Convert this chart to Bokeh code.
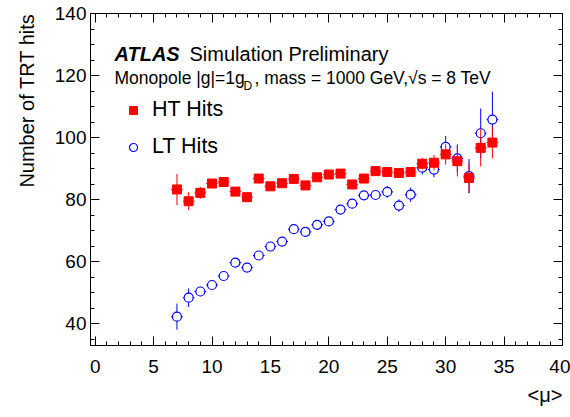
import math
from bokeh.plotting import figure
from bokeh.models import (Range1d, LinearAxis, SingleIntervalTicker, ColumnDataSource,
                          Legend, LegendItem, Label, CustomJSTickFormatter, Title)
from bokeh.embed import file_html
from bokeh.resources import INLINE

# ---------------- data ----------------
mu = [7, 8, 9, 10, 11, 12, 13, 14, 15, 16, 17, 18, 19, 20, 21, 22, 23, 24, 25, 26, 27,
      28, 29, 30, 31, 32, 33, 34]
ht_hits = [83.3, 79.5, 82.2, 85.2, 85.7, 82.6, 80.8, 86.8, 84.3, 85.3, 86.7, 84.6, 87.2,
           88.1, 88.4, 84.9, 86.8, 89.2, 88.9, 88.6, 88.9, 91.6, 91.9, 94.6, 92.4, 87.0,
           96.7, 98.4]
ht_err = [5.0, 2.9, 1.9, 1.4, 1.1, 1.0, 1.0, 1.0, 1.0, 1.0, 1.0, 1.0, 1.0, 1.0, 1.0, 1.2,
          1.2, 1.2, 1.3, 1.4, 1.5, 1.9, 2.5, 3.3, 4.9, 4.9, 6.0, 5.1]
lt_hits = [42.3, 48.4, 50.4, 52.5, 55.4, 59.7, 58.1, 62.0, 64.9, 66.5, 70.5, 69.6, 71.9,
           73.0, 76.8, 78.7, 81.4, 81.5, 82.5, 78.1, 81.6, 90.3, 89.7, 97.0, 93.3, 87.6,
           101.4, 105.8]
lt_err = [4.2, 3.0, 1.5, 1.3, 1.2, 1.2, 1.2, 1.2, 1.2, 1.2, 1.2, 1.2, 1.2, 1.2, 1.3, 1.3,
          1.4, 1.5, 1.9, 2.0, 2.3, 2.2, 2.5, 3.5, 4.5, 5.5, 8.0, 9.0]
bin_half_width = 0.5

x_ticks_interval = 5
y_ticks_interval = 20
x_title_text = "<\u03bc>"
y_title_text = "Number of TRT hits"

FONT = "Liberation Sans"
RED = "#ff0000"
BLUE = "#0000ff"

W, H = 570, 417
FL, FT, FR, FB = 89, 13, 562, 345   # frame edges in picture pixels

p = figure(width=W, height=H, x_range=Range1d(-0.4, 40), y_range=Range1d(33, 140),
           output_backend="svg", toolbar_location=None,
           min_border_left=FL, min_border_right=W - FR, min_border_top=FT,
           min_border_bottom=H - FB)
p.grid.visible = False
p.outline_line_color = "black"
p.outline_line_width = 1
p.background_fill_color = "white"
p.border_fill_color = "white"

xt = SingleIntervalTicker(interval=x_ticks_interval, num_minor_ticks=5)
yt = SingleIntervalTicker(interval=y_ticks_interval, num_minor_ticks=4)


def style_axis(ax, major_len):
    ax.major_tick_in = major_len
    ax.major_tick_out = 0
    ax.minor_tick_in = 4
    ax.minor_tick_out = 0
    ax.axis_line_color = "black"
    ax.major_tick_line_color = "black"
    ax.minor_tick_line_color = "black"
    ax.major_label_text_font = FONT
    ax.major_label_text_color = "black"
    ax.major_label_text_font_size = "19px"


xa = p.xaxis[0]
xa.ticker = xt
style_axis(xa, 9)
xa.major_label_standoff = 14

ya = p.yaxis[0]
ya.ticker = yt
style_axis(ya, 9)
ya.major_label_standoff = 4

blank = CustomJSTickFormatter(code="return ''")
top_ax = LinearAxis(ticker=xt, formatter=blank)
style_axis(top_ax, 9)
top_ax.major_label_standoff = 0
p.add_layout(top_ax, "above")
right_ax = LinearAxis(ticker=yt, formatter=blank)
style_axis(right_ax, 9)
right_ax.major_label_standoff = 0
p.add_layout(right_ax, "right")

# axis titles (right/top aligned as in the reference)
y_title = Title(text=y_title_text, align="right", text_font=FONT,
                text_font_size="20px", text_font_style="normal", text_color="black",
                standoff=27)
p.add_layout(y_title, "left")
x_title = Title(text=x_title_text, align="right", text_font=FONT, text_font_size="20px",
                text_font_style="normal", text_color="black", standoff=13,
                vertical_align="bottom")
p.add_layout(x_title, "below")

# ---------------- data marks ----------------
lt_src = ColumnDataSource(dict(
    x=mu, y=lt_hits,
    lo=[v - e for v, e in zip(lt_hits, lt_err)],
    hi=[v + e for v, e in zip(lt_hits, lt_err)],
    xl=[m - bin_half_width for m in mu],
    xr=[m + bin_half_width for m in mu]))
ht_src = ColumnDataSource(dict(
    x=mu, y=ht_hits,
    lo=[v - e for v, e in zip(ht_hits, ht_err)],
    hi=[v + e for v, e in zip(ht_hits, ht_err)],
    xl=[m - bin_half_width for m in mu],
    xr=[m + bin_half_width for m in mu]))

p.segment(x0="x", y0="lo", x1="x", y1="hi", source=lt_src, line_color=BLUE, line_width=1)
p.segment(x0="xl", y0="y", x1="xr", y1="y", source=lt_src, line_color=BLUE, line_width=1)
lt_r = p.scatter("x", "y", source=lt_src, marker="circle", size=9,
                 fill_color="white", line_color=BLUE, line_width=1.2)

p.segment(x0="x", y0="lo", x1="x", y1="hi", source=ht_src, line_color=RED, line_width=1)
p.segment(x0="xl", y0="y", x1="xr", y1="y", source=ht_src, line_color=RED, line_width=1)
ht_r = p.scatter("x", "y", source=ht_src, marker="square", size=9,
                 fill_color=RED, line_color=RED, line_width=1)

legend = Legend(items=[LegendItem(label="HT Hits", renderers=[ht_r]),
                       LegendItem(label="LT Hits", renderers=[lt_r])],
                location=(33, 186), glyph_width=20, glyph_height=20, label_height=20,
                spacing=12, padding=0, margin=0, border_line_color=None,
                background_fill_alpha=0, label_text_font_size="21.5px",
                label_text_font=FONT, label_text_color="black", label_standoff=9)
p.add_layout(legend)


# ---------------- texts (screen units relative to the frame) ----------------
def frame_label(text, px, py, size, align="left", baseline="alphabetic", style="normal"):
    return Label(x=px - FL, y=FB - py, x_units="screen", y_units="screen", text=text,
                 text_font=FONT, text_font_size=size, text_align=align,
                 text_baseline=baseline, text_font_style=style, text_color="black")


p.add_layout(frame_label("ATLAS", 113, 53, "20px", style="bold italic"))
p.add_layout(frame_label("Simulation Preliminary", 188, 53, "20px"))
p.add_layout(frame_label("Monopole |g|=1g", 113, 77, "17.5px"))
p.add_layout(frame_label("D", 242, 85, "12px"))
p.add_layout(frame_label(", mass = 1000 GeV,\u221as = 8 TeV", 253, 77, "17.5px"))

open("out.html", "w").write(file_html(p, INLINE))
